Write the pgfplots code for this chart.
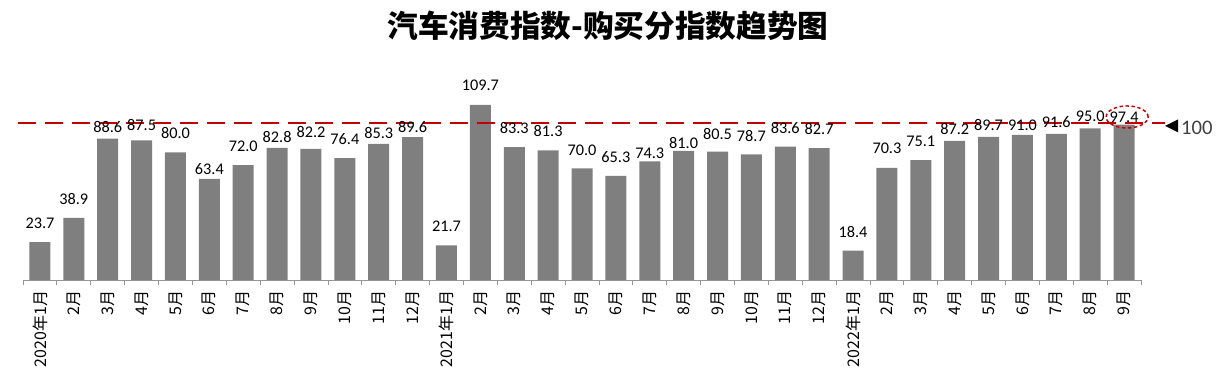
\documentclass[border=0pt]{standalone}
\usepackage{pgfplots}
\pgfplotsset{compat=1.18}
\usepackage{pgfplotstable}
\usepackage{fontspec}
\setmainfont{Carlito}
\newfontfamily\cjk{Noto Sans CJK SC}
\definecolor{barg}{RGB}{127,127,127}
\definecolor{dred}{RGB}{192,0,0}
\definecolor{axg}{RGB}{150,150,150}
\pgfplotstableread{
x y off
0 23.7 14.25
1 38.9 14.25
2 88.6 9
3 87.5 11.25
4 80.0 14.25
5 63.4 7.5
6 72.0 14.25
7 82.8 8.25
8 82.2 12.75
9 76.4 14.25
10 85.3 8.25
11 89.6 7.5
12 21.7 14.25
13 109.7 15
14 83.3 14.25
15 81.3 14.25
16 70.0 13.5
17 65.3 13.9
18 74.3 6
19 81.0 5.6
20 80.5 13.5
21 78.7 13.5
22 83.6 13.9
23 82.7 14.25
24 18.4 14.25
25 70.3 14.6
26 75.1 13.9
27 87.2 8.6
28 89.7 9
29 91.0 7.5
30 91.6 8.6
31 95.0 9
32 97.4 5.6
}\datatable
\begin{document}
\begin{tikzpicture}
\path[use as bounding box] (0pt,0pt) rectangle (912pt,282pt);
\node[font=\cjk\bfseries\fontsize{23}{23}\selectfont] at (456pt,262.5pt) {汽车消费指数-购买分指数趋势图};
\begin{axis}[
  at={(17.25pt,72pt)}, anchor=south west,
  scale only axis, width=838.5pt, height=137.6pt,
  xmin=-0.5, xmax=32.5, ymin=0, ymax=115,
  clip=false,
  axis x line=bottom, axis y line=none,
  axis line style={-, axg, line width=0.6pt},
  xtick={0,...,32},
  xticklabels={2020年1月,2月,3月,4月,5月,6月,7月,8月,9月,10月,11月,12月,2021年1月,2月,3月,4月,5月,6月,7月,8月,9月,10月,11月,12月,2022年1月,2月,3月,4月,5月,6月,7月,8月,9月},
  major tick length=0pt,
  minor xtick={-0.5,0.5,...,32.5},
  minor tick length=3.75pt,
  tick align=outside,
  minor tick style={axg, line width=0.6pt},
  xticklabel style={font=\cjk\fontsize{12}{12}\selectfont, yshift=-4.5pt, rotate=90, anchor=east},
  /pgf/number format/assume math mode=true,
  ybar, bar width=15.75pt,
]
\addplot[fill=barg, draw=none,
  visualization depends on={\thisrow{off} \as \off},
  nodes near coords={\pgfmathprintnumber[fixed,fixed zerofill,precision=1]{\pgfplotspointmeta}},
  every node near coord/.append style={anchor=center, yshift=\off*1pt, font=\fontsize{12.2}{12.2}\selectfont, text=black},
] table[x=x,y=y] {\datatable};
\addplot[sharp plot, dred, line width=1.7pt, dash pattern=on 13.5pt off 6.75pt, forget plot] coordinates {(-0.65,98.2) (33.21,98.2)};
\fill[black] (axis cs:33.21,96.6) -- ++(9.75pt,4.9pt) -- ++(0pt,-9.75pt) -- cycle;
\node[font=\fontsize{15.5}{15.5}\selectfont, text={rgb,255:red,64;green,64;blue,64}] at (axis cs:34.15,95.5) {100};
\draw[dred, line width=1.1pt, dash pattern=on 2.5pt off 2pt] (axis cs:32.09,102.2) ellipse [x radius=15.75pt, y radius=8.25pt];
\end{axis}
\end{tikzpicture}
\end{document}
